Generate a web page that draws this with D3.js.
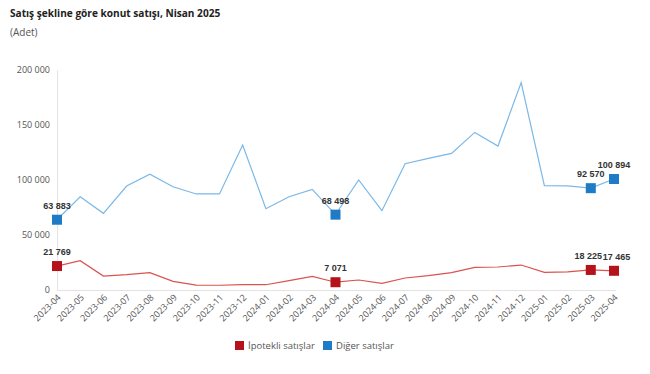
<!DOCTYPE html>
<html><head><meta charset="utf-8">
<script src="https://cdn.jsdelivr.net/npm/d3@7"></script>
<style>
html,body{margin:0;padding:0;background:#fff;}
svg{display:block;}
</style></head>
<body>
<svg id="chart" width="650" height="374"></svg>
<script>
const months = ["2023-04","2023-05","2023-06","2023-07","2023-08","2023-09","2023-10","2023-11","2023-12",
"2024-01","2024-02","2024-03","2024-04","2024-05","2024-06","2024-07","2024-08","2024-09","2024-10","2024-11","2024-12",
"2025-01","2025-02","2025-03","2025-04"];
const ipotekli = [21769,26700,12700,13900,15800,7900,4500,4300,4800,4800,8500,12400,7071,9100,6100,10900,13000,15800,20600,20900,22700,16100,16400,18225,17465];
const diger = [63883,84800,69700,94500,105200,93900,87300,87300,131800,73900,84800,91500,68498,100000,72100,114800,119700,124200,143300,130900,188500,94800,94600,92570,100894];
const yTicks = [0,50000,100000,150000,200000];
const labelledIdx = [0,12,23,24];
const seriesNames = ["İpotekli satışlar","Diğer satışlar"];
const title = "Satış şekline göre konut satışı, Nisan 2025";
const subtitle = "(Adet)";

const svg = d3.select("#chart");
const fmt = v => d3.format(",")(v).replace(/,/g," ");
const x = d3.scalePoint().domain(months).range([57,614]);
const y = d3.scaleLinear().domain([0,200000]).range([290,70]);

svg.append("text").attr("x",10).attr("y",17).attr("font-family","'Open Sans',sans-serif")
  .attr("font-weight","bold").attr("font-size",10.1).attr("fill","#222").text(title);
svg.append("text").attr("x",10).attr("y",36).attr("font-family","'Open Sans',sans-serif")
  .attr("font-size",10).attr("fill","#555").text(subtitle);

// y axis
const ya = svg.append("g").attr("transform","translate(57,0)")
  .call(d3.axisLeft(y).tickValues(yTicks).tickFormat(fmt).tickSize(0).tickPadding(7));
ya.select(".domain").attr("stroke","#e3e3e3");
ya.selectAll("text").attr("font-family","'Open Sans',sans-serif").attr("font-size",9).attr("fill","#555");

// x axis
const xa = svg.append("g").attr("transform","translate(0,290)")
  .call(d3.axisBottom(x).tickSize(0).tickPadding(0));
xa.select(".domain").attr("stroke","#e3e3e3").attr("d","M57,0.5H616");
xa.selectAll("text").attr("font-family","'Open Sans',sans-serif").attr("font-size",9).attr("fill","#555")
  .attr("text-anchor","end").attr("dy",null).attr("y",null)
  .attr("transform","translate(4,8) rotate(-45)");

const series = [
  {vals: ipotekli, line:"#d9534f", mark:"#b5121b"},
  {vals: diger, line:"#7ab8e8", mark:"#1f7bc5"}
];
// small horizontal nudges so that neighbouring labels do not collide
const nudge = {0:0, 12:0, 23:-2.5, 24:2.5};
const line = d3.line().x((d,i)=>x(months[i])).y(d=>y(d));
series.forEach((s,si)=>{
  svg.append("path").attr("d",line(s.vals)).attr("fill","none").attr("stroke",s.line).attr("stroke-width",1.2);
  const g = svg.append("g");
  labelledIdx.forEach(i=>{
    const cx = x(months[i]), cy = y(s.vals[i]);
    g.append("rect").attr("x",cx-5).attr("y",cy-5).attr("width",10).attr("height",10).attr("fill",s.mark);
    g.append("text").attr("x",cx + (si===0 ? nudge[i] : 0)).attr("y",cy-11).attr("text-anchor","middle")
      .attr("font-family","'Liberation Sans',Arial,sans-serif").attr("font-weight","bold").attr("font-size",9)
      .attr("fill","#333").text(fmt(s.vals[i]));
  });
});

// legend
const lg = svg.append("g");
const lx = [235,323];
seriesNames.forEach((n,i)=>{
  lg.append("rect").attr("x",lx[i]).attr("y",341).attr("width",9).attr("height",9).attr("fill",series[i].mark);
  lg.append("text").attr("x",lx[i]+13).attr("y",349).attr("font-family","'Open Sans',sans-serif")
    .attr("font-size",9.5).attr("fill","#555").text(n);
});
</script>
</body></html>
